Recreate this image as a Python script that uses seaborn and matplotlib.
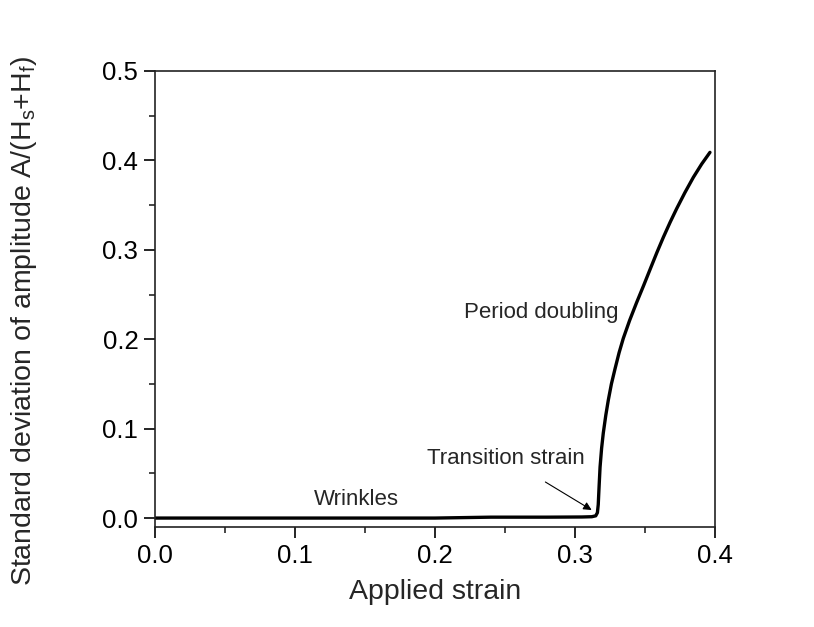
import matplotlib
matplotlib.use("Agg")
import matplotlib.pyplot as plt
from matplotlib.ticker import MultipleLocator
import seaborn as sns
import pandas as pd

# Data
strain = [0.0, 0.10, 0.20, 0.24, 0.28, 0.305, 0.312, 0.3148, 0.3160, 0.3166,
          0.3172, 0.3179, 0.3190, 0.3202, 0.3220, 0.3238, 0.3260, 0.3286,
          0.3315, 0.3345, 0.3390, 0.3440, 0.3490, 0.3536, 0.3585, 0.3631,
          0.3680, 0.3726, 0.3785, 0.3845, 0.3905, 0.3964]
amplitude_sd = [0.0, 0.0, 0.0, 0.001, 0.001, 0.0012, 0.0015, 0.0025, 0.006, 0.015,
                0.035, 0.057, 0.078, 0.095, 0.115, 0.132, 0.150, 0.167,
                0.185, 0.201, 0.221, 0.241, 0.260, 0.278, 0.297, 0.314,
                0.331, 0.346, 0.364, 0.381, 0.396, 0.409]

x_ticks = [0.0, 0.1, 0.2, 0.3, 0.4]
y_ticks = [0.0, 0.1, 0.2, 0.3, 0.4, 0.5]

df = pd.DataFrame({"strain": strain, "sd": amplitude_sd})

sns.set_style("ticks")
plt.rcParams["font.family"] = ["Liberation Sans", "DejaVu Sans"]
plt.rcParams["mathtext.fontset"] = "custom"
plt.rcParams["mathtext.rm"] = "Liberation Sans"
plt.rcParams["mathtext.it"] = "Liberation Sans:italic"

fig = plt.figure(figsize=(8.14, 6.27), dpi=100)
ax = fig.add_axes([155/814, 1 - 527/627, (715 - 155)/814, (527 - 71)/627])

sns.lineplot(data=df, x="strain", y="sd", sort=False, color="black",
             linewidth=2.4, ax=ax, estimator=None)

ax.set_xlim(0.0, 0.4)
ax.set_ylim(-0.01, 0.5)
ax.set_xticks(x_ticks)
ax.set_yticks(y_ticks)
ax.set_xticklabels([f"{v:.1f}" for v in x_ticks])
ax.set_yticklabels([f"{v:.1f}" for v in y_ticks])
ax.xaxis.set_minor_locator(MultipleLocator(0.05))
ax.yaxis.set_minor_locator(MultipleLocator(0.05))
ax.tick_params(which="major", direction="out", length=8, width=1.2,
               labelsize=18.5, colors="black", pad=4)
ax.tick_params(which="minor", direction="out", length=4.5, width=1.2)
ax.tick_params(top=False, right=False, which="both")
for s in ax.spines.values():
    s.set_visible(True)
    s.set_linewidth(1.2)
    s.set_color("#222222")

ax.set_xlabel("Applied strain", fontsize=20.5, labelpad=8)
ax.set_ylabel(r"Standard deviation of amplitude A/(H$_{\rm s}$+H$_{\rm f}$)",
              fontsize=20.5)
ax.yaxis.set_label_coords(-0.207, 0.452)

ax.text(0.2757, 0.23, "Period doubling", fontsize=16, ha="center", va="center")
ax.text(0.144, 0.021, "Wrinkles", fontsize=16, ha="center", va="center")
ax.annotate("Transition strain", xy=(0.3119, 0.009), xytext=(0.2507, 0.067),
            fontsize=16, ha="center", va="center",
            arrowprops=dict(arrowstyle="-|>", color="black", lw=0.8,
                            mutation_scale=12, shrinkA=14, shrinkB=0))

fig.savefig("out.png", dpi=100, facecolor="white")
